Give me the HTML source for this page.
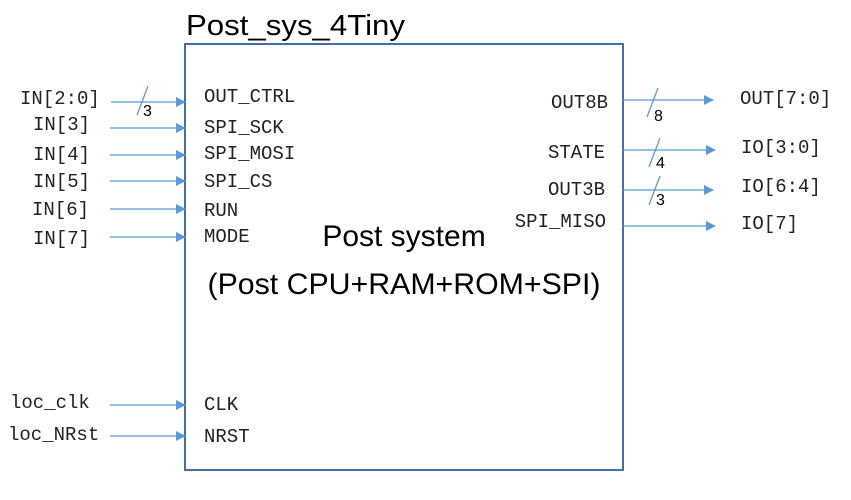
<!DOCTYPE html>
<html><head><style>body{margin:0;background:#fff}</style></head><body>
<svg width="851" height="495" xmlns="http://www.w3.org/2000/svg">
<defs><marker id="a" markerWidth="10" markerHeight="10" refX="9" refY="5" orient="auto" markerUnits="userSpaceOnUse"><path d="M0,0 L10,5 L0,10 z" fill="#5b9bd5"/></marker></defs>
<rect x="185" y="44" width="438" height="426" fill="none" stroke="#41719c" stroke-width="2"/>
<text x="186" y="35" font-family="Liberation Sans, sans-serif" font-size="29" textLength="219" lengthAdjust="spacingAndGlyphs">Post_sys_4Tiny</text>
<text x="404" y="246" font-family="Liberation Sans, sans-serif" font-size="30" text-anchor="middle">Post system</text>
<text x="404" y="294" font-family="Liberation Sans, sans-serif" font-size="30" text-anchor="middle" textLength="393" lengthAdjust="spacingAndGlyphs">(Post CPU+RAM+ROM+SPI)</text>
<g stroke="#5b9bd5" stroke-width="1.3" marker-end="url(#a)">
<line x1="111" y1="102" x2="185" y2="102"/>
<line x1="110" y1="128" x2="185" y2="128"/>
<line x1="110" y1="155" x2="185" y2="155"/>
<line x1="110" y1="181" x2="185" y2="181"/>
<line x1="110" y1="209" x2="185" y2="209"/>
<line x1="110" y1="237" x2="185" y2="237"/>
<line x1="110" y1="405" x2="185" y2="405"/>
<line x1="110" y1="436" x2="185" y2="436"/>
<line x1="623" y1="100" x2="713" y2="100"/>
<line x1="623" y1="150" x2="715" y2="150"/>
<line x1="623" y1="190" x2="713" y2="190"/>
<line x1="623" y1="226" x2="715" y2="226"/>
</g>
<g stroke="#5b9bd5" stroke-width="1.3">
<line x1="137" y1="115" x2="148" y2="86"/>
<line x1="647" y1="117" x2="658" y2="88"/>
<line x1="649" y1="167" x2="660" y2="138"/>
<line x1="649" y1="205" x2="660" y2="176"/>
</g>
<g font-family="Liberation Sans, sans-serif" font-size="16">
<text x="143" y="116">3</text><text x="654" y="121">8</text><text x="656" y="168">4</text><text x="656" y="205">3</text>
</g>
<g font-family="Liberation Mono, monospace" font-size="19" fill="#222">
<text x="20" y="104">IN[2:0]</text>
<text x="33" y="130">IN[3]</text>
<text x="33" y="160">IN[4]</text>
<text x="33" y="187">IN[5]</text>
<text x="32" y="215">IN[6]</text>
<text x="33" y="244">IN[7]</text>
<text x="10" y="408">loc_clk</text>
<text x="8" y="440">loc_NRst</text>
<text x="204" y="102">OUT_CTRL</text>
<text x="204" y="133">SPI_SCK</text>
<text x="204" y="159">SPI_MOSI</text>
<text x="204" y="187">SPI_CS</text>
<text x="204" y="216">RUN</text>
<text x="204" y="242">MODE</text>
<text x="204" y="410">CLK</text>
<text x="204" y="442">NRST</text>
<text x="608" y="108" text-anchor="end">OUT8B</text>
<text x="605" y="158" text-anchor="end">STATE</text>
<text x="605" y="195" text-anchor="end">OUT3B</text>
<text x="606" y="227" text-anchor="end">SPI_MISO</text>
<text x="740" y="104">OUT[7:0]</text>
<text x="741" y="153">IO[3:0]</text>
<text x="741" y="192">IO[6:4]</text>
<text x="741" y="229">IO[7]</text>
</g>
</svg>
</body></html>
